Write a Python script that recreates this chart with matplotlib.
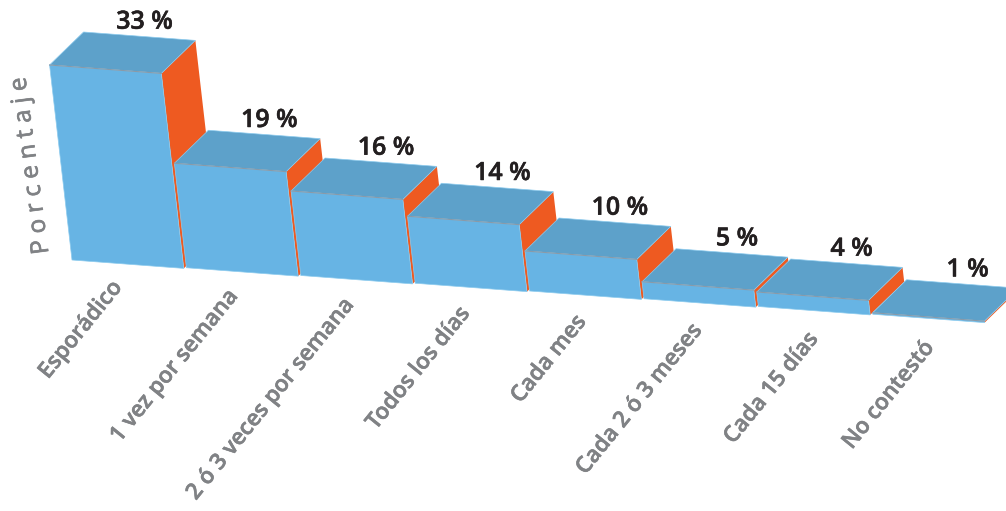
import numpy as np
import matplotlib
matplotlib.use("Agg")
import matplotlib.pyplot as plt
import matplotlib.patheffects as pe
from matplotlib.patches import Polygon

categories = ["Esporádico", "1 vez por semana", "2 ó 3 veces por semana", "Todos los días",
              "Cada mes", "Cada 2 ó 3 meses", "Cada 15 días", "No contestó"]
percent = [33, 19, 16, 14, 10, 5, 4, 1]
ylabel_text = "P o r c e n t a j e"

# the original's value axis is not linear: percent -> drawn height in pixels
scale_percent = [0, 1, 4, 5, 10, 14, 16, 19, 33]
scale_height = [0, 1.5, 14.5, 17, 40, 67, 84.5, 104.5, 195]

FRONT, TOP, SIDE = "#67B4E4", "#5DA1CA", "#EE5A21"
EDGE, TOPEDGE = "#8CCBEE", "#8A9AA8"
GREY, INK = "#808285", "#231F20"
ORIGIN = np.array([72.0, 260.0])
STEP = np.array([114.4, 7.75])
WIDTH = np.array([111.8, 8.4])
DEPTH = np.array([34.0, -33.0])
LEAN = -0.115
LABEL_START = np.array([118.5, 284.0])
LABEL_STEP = np.array([116.0, 8.6])


def project(i, across, height, depth):
    """Oblique projection of a bar-local point to figure pixels."""
    return (ORIGIN + i * STEP + across * WIDTH
            + height * np.array([LEAN, -1.0]) + depth * DEPTH)


fig = plt.figure(figsize=(10.06, 5.11), dpi=100)
ax = fig.add_axes([0, 0, 1, 1])
ax.set_xlim(0, 1006)
ax.set_ylim(511, 0)
ax.axis("off")

font = ["Open Sans", "DejaVu Sans"]
for i, (name, v) in enumerate(zip(categories, percent)):
    h = np.interp(v, scale_percent, scale_height)
    p = lambda a, ht, d: project(i, a, ht, d)
    side = [p(1, h, 0), p(1, h, 1), p(1, 0, 1), p(1, 0, 0)]
    top = [p(0, h, 0), p(0, h, 1), p(1, h, 1), p(1, h, 0)]
    front = [p(0, 0, 0), p(0, h, 0), p(1, h, 0), p(1, 0, 0)]
    ax.add_patch(Polygon(side, closed=True, fc=SIDE, ec="none", zorder=2 + i))
    ax.add_patch(Polygon(top, closed=True, fc=TOP, ec=EDGE, lw=0.5, zorder=2 + i))
    ax.add_patch(Polygon(front, closed=True, fc=FRONT, ec=EDGE, lw=0.5, zorder=2 + i))
    ax.plot(*np.array([p(0, h, 0), p(1, h, 0)]).T, color=TOPEDGE, lw=0.8, zorder=2 + i)

    lx, ly = p(0.5, h, 1) + np.array([5, -14])
    ax.text(lx, ly, f"{v} %", ha="center", va="center", fontsize=18, fontweight="semibold",
            color=INK, family=font, zorder=20,
            path_effects=[pe.withStroke(linewidth=0.4, foreground=INK)])

    ex, ey = LABEL_START + i * LABEL_STEP
    ax.text(ex, ey, name, ha="right", va="center", rotation=51, rotation_mode="anchor",
            fontsize=16.2, fontweight="semibold", color=GREY, family=font, zorder=20,
            path_effects=[pe.withStroke(linewidth=0.4, foreground=GREY)])

ax.text(31, 166, ylabel_text, ha="center", va="center", rotation=97.5, rotation_mode="anchor",
        fontsize=17.5, fontweight="normal", color=GREY, family=font,
        path_effects=[pe.withStroke(linewidth=0.5, foreground=GREY)])

fig.savefig("out.png", dpi=100)
